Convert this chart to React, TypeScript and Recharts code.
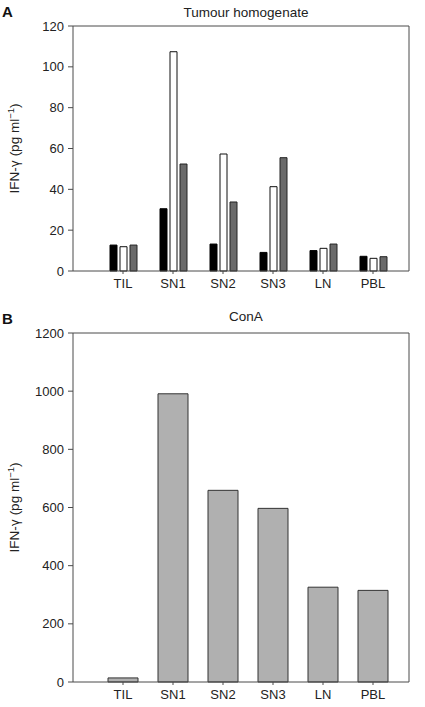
import React from 'react';
import { BarChart, Bar, XAxis, YAxis, Label, CartesianGrid } from 'recharts';

const CATEGORIES = ['TIL', 'SN1', 'SN2', 'SN3', 'LN', 'PBL'];

// Panel A: tumour homogenate, three series per site
const SERIES_BLACK = [12.7, 30.5, 13.2, 9.1, 10.0, 7.2];
const SERIES_WHITE = [11.9, 107.4, 57.3, 41.3, 11.1, 6.2];
const SERIES_GRAY = [12.7, 52.4, 33.8, 55.5, 13.2, 7.0];
const TICKS_A = [0, 20, 40, 60, 80, 100, 120];

// Panel B: ConA
const CONA_VALUES = [14, 991, 659, 597, 326, 315];
const TICKS_B = [0, 200, 400, 600, 800, 1000, 1200];

const FONT = '"Liberation Sans", Arial, Helvetica, sans-serif';
const LINE = '#4a4a4a';
const TEXT = '#222';

const dataA = CATEGORIES.map((name, i) => ({
  name,
  black: SERIES_BLACK[i],
  white: SERIES_WHITE[i],
  gray: SERIES_GRAY[i],
}));

const dataB = CATEGORIES.map((name, i) => ({ name, value: CONA_VALUES[i] }));

const tickStyle = { fill: TEXT, fontSize: 13, fontFamily: FONT };

function YLabel(props: any) {
  const vb = props.viewBox || { x: 0, y: 0, width: 0, height: 0 };
  const cy = vb.y + vb.height / 2;
  const x = 18.5;
  return (
    <text
      x={x}
      y={cy}
      transform={`rotate(-90, ${x}, ${cy})`}
      textAnchor="middle"
      fill={TEXT}
      fontSize={13.5}
      fontFamily={FONT}
    >
      IFN-<tspan fontFamily="'DejaVu Sans', sans-serif" fontSize={12}>γ</tspan> (pg ml
      <tspan fontSize={9.5} dy={-5}>−1</tspan>
      <tspan dy={5}>)</tspan>
    </text>
  );
}

// top and right edges of the plot frame
const topEdge = ({ offset }: any) => [offset.top];
const rightEdge = ({ offset }: any) => [offset.left + offset.width];

export default function App() {
  return (
    <div style={{ position: 'absolute', left: 0, top: 0, width: 425, height: 707, background: '#fff', fontFamily: FONT }}>
      {/* panel letters and titles */}
      <div style={{ position: 'absolute', left: 2, top: 4, fontSize: 15, lineHeight: '15px', fontWeight: 'bold', color: '#111' }}>A</div>
      <div style={{ position: 'absolute', left: 146, top: 5, width: 200, textAlign: 'center', fontSize: 13.5, lineHeight: '16px', color: TEXT }}>
        Tumour homogenate
      </div>
      <div style={{ position: 'absolute', left: 2, top: 311, fontSize: 15, lineHeight: '15px', fontWeight: 'bold', color: '#111' }}>B</div>
      <div style={{ position: 'absolute', left: 146, top: 309, width: 200, textAlign: 'center', fontSize: 13.5, lineHeight: '16px', color: TEXT }}>
        ConA
      </div>

      {/* Panel A */}
      <div style={{ position: 'absolute', left: 0, top: 0 }}>
        <BarChart width={425} height={300} data={dataA} margin={{ top: 26, right: 16, bottom: 9, left: 33 }} barGap={3} barSize={7}>
          <CartesianGrid
            stroke={LINE}
            horizontalCoordinatesGenerator={topEdge}
            verticalCoordinatesGenerator={rightEdge}
          />
          <XAxis
            dataKey="name"
            height={20}
            padding={{ left: 25, right: 11 }}
            tick={tickStyle}
            tickSize={3}
            tickMargin={5}
            axisLine={{ stroke: LINE }}
            tickLine={{ stroke: LINE }}
          />
          <YAxis
            width={40}
            domain={[0, 120]}
            ticks={TICKS_A}
            interval={0}
            tick={tickStyle}
            tickSize={5}
            tickMargin={4}
            axisLine={{ stroke: LINE }}
            tickLine={{ stroke: LINE }}
          >
            <Label content={<YLabel />} />
          </YAxis>
          <Bar dataKey="black" fill="#000" stroke="#000" strokeWidth={1} isAnimationActive={false} />
          <Bar dataKey="white" fill="#fff" stroke="#111" strokeWidth={1} isAnimationActive={false} />
          <Bar dataKey="gray" fill="#6a6a6a" stroke="#222" strokeWidth={1} isAnimationActive={false} />
        </BarChart>
      </div>

      {/* Panel B */}
      <div style={{ position: 'absolute', left: 0, top: 300 }}>
        <BarChart width={425} height={407} data={dataB} margin={{ top: 33, right: 16, bottom: 5, left: 33 }} barSize={30}>
          <CartesianGrid
            stroke={LINE}
            horizontalCoordinatesGenerator={topEdge}
            verticalCoordinatesGenerator={rightEdge}
          />
          <XAxis
            dataKey="name"
            height={20}
            padding={{ left: 25, right: 11 }}
            tick={tickStyle}
            tickSize={3}
            tickMargin={5}
            axisLine={{ stroke: LINE }}
            tickLine={{ stroke: LINE }}
          />
          <YAxis
            width={40}
            domain={[0, 1200]}
            ticks={TICKS_B}
            interval={0}
            tick={tickStyle}
            tickSize={5}
            tickMargin={4}
            axisLine={{ stroke: LINE }}
            tickLine={{ stroke: LINE }}
          >
            <Label content={<YLabel />} />
          </YAxis>
          <Bar dataKey="value" fill="#b0b0b0" stroke="#333" strokeWidth={1} isAnimationActive={false} />
        </BarChart>
      </div>
    </div>
  );
}
